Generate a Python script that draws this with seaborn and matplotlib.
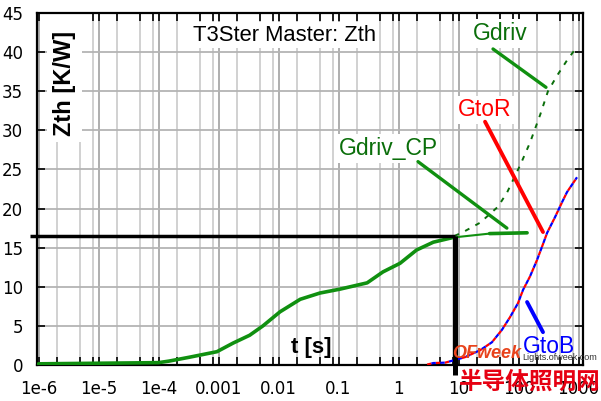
import matplotlib
matplotlib.use("Agg")
import matplotlib.pyplot as plt
import matplotlib.ticker as mticker
from matplotlib.patches import Rectangle
import seaborn as sns
import pandas as pd

# ---------------- data ----------------
cp_t = [1e-6, 1e-4, 1.5e-4, 3.3e-4, 9.4e-4, 1.75e-3, 3.3e-3, 5.5e-3, 0.0106, 0.023,
        0.049, 0.106, 0.30, 0.55, 1.06, 2.0, 3.8, 8.1]
cp_z = [0.15, 0.3, 0.5, 1.0, 1.7, 2.8, 3.8, 5.0, 6.8, 8.4,
        9.2, 9.7, 10.5, 11.9, 13.0, 14.7, 15.7, 16.3]
cp_tail_t = [8.1, 33.0, 139.0]
cp_tail_z = [16.3, 16.8, 16.9]

gdriv_t = [8.6, 12.0, 23.0, 45.0, 64.0, 106.0, 155.0, 230.0, 310.0, 440.0, 650.0, 950.0]
gdriv_z = [16.5, 17.0, 18.2, 20.2, 22.0, 25.5, 28.4, 32.0, 35.0, 37.0, 39.0, 40.7]

gtor_t = [3.0, 3.8, 6.0, 12.8, 23.0, 36.0, 53.0, 72.0, 98.0, 119.0, 155.0, 203.0,
          246.0, 300.0, 406.0, 531.0, 643.0, 945.0]
gtor_z = [0.05, 0.25, 0.3, 1.0, 1.9, 2.9, 4.5, 6.1, 7.9, 9.6, 11.3, 13.4,
          15.1, 16.9, 18.9, 20.8, 22.1, 24.0]
gtob_t = list(gtor_t)
gtob_z = list(gtor_z)

marker_t = 8.6
marker_z = 16.5

xtick_vals = [1e-6, 1e-5, 1e-4, 1e-3, 1e-2, 1e-1, 1, 10, 100, 1000]
xtick_labels = ["1e-6", "1e-5", "1e-4", "0.001", "0.01", "0.1", "1", "10", "100", "1000"]
ytick_vals = [0, 5, 10, 15, 20, 25, 30, 35, 40, 45]

title_text = "T3Ster Master: Zth"
ylabel_text = "Zth [K/W]"
xlabel_text = "t [s]"

# ---------------- style ----------------
sns.set_theme(style="white")
plt.rcParams["font.family"] = ["DejaVu Sans"]

GREEN = "#109010"
DKGREEN = "#0a6e0a"

fig = plt.figure(figsize=(6.01, 4.01), dpi=100)
ax = fig.add_axes([37 / 601, 36 / 401, 546 / 601, 352 / 401])
ax.set_xscale("log")
ax.set_xlim(10 ** (-6 - 1.5 / 60), 10 ** (3 + 4.5 / 60))
ax.set_ylim(0, 45)

# grid
ax.xaxis.set_major_locator(mticker.FixedLocator(xtick_vals))
ax.xaxis.set_major_formatter(mticker.FixedFormatter(xtick_labels))
ax.xaxis.set_minor_locator(mticker.LogLocator(base=10, subs=[2, 5, 8], numticks=30))
ax.xaxis.set_minor_formatter(mticker.NullFormatter())
ax.set_yticks(ytick_vals)
ax.grid(True, which="major", axis="x", color="#a8a8a8", lw=1.3, zorder=0)
ax.grid(True, which="minor", axis="x", color="#cacaca", lw=1.2, zorder=0)
ax.grid(True, which="major", axis="y", color="#b4b4b4", lw=1.3, zorder=0)
ax.set_axisbelow(True)

ax.tick_params(axis="both", which="both", direction="in", top=True, right=True,
               bottom=True, left=True, color="black", length=5.5, width=1.2,
               labelsize=12, labelcolor="black")
ax.tick_params(axis="x", which="major", pad=11)
ax.tick_params(axis="y", which="major", pad=10)
for s in ax.spines.values():
    s.set_color("black")
    s.set_linewidth(1.6)

# white box behind y label
ax.add_patch(Rectangle((10 / 546, (365 - 142) / 352), 35 / 546, 1 - (365 - 142) / 352,
                       transform=ax.transAxes, facecolor="white", edgecolor="none", zorder=1))

# ---------------- curves ----------------
sns.lineplot(x=cp_t, y=cp_z, ax=ax, color=GREEN, linewidth=2.6, sort=False,
             estimator=None, zorder=4)
sns.lineplot(x=cp_tail_t, y=cp_tail_z, ax=ax, color=GREEN, linewidth=1.5, sort=False,
             estimator=None, zorder=4)
sns.lineplot(x=cp_tail_t[1:], y=cp_tail_z[1:], ax=ax, color=GREEN, linewidth=2.6,
             sort=False, estimator=None, zorder=4)
sns.lineplot(x=gdriv_t, y=gdriv_z, ax=ax, color=DKGREEN, linewidth=1.4, sort=False,
             estimator=None, linestyle=(0, (2.5, 3.5)), zorder=4)
sns.lineplot(x=gtor_t, y=gtor_z, ax=ax, color="#ff0000", linewidth=1.6, sort=False,
             estimator=None, linestyle=(0, (2, 2)), zorder=4)
sns.lineplot(x=gtob_t, y=gtob_z, ax=ax, color="#0000ff", linewidth=1.6, sort=False,
             estimator=None, linestyle=(2, (2, 2)), zorder=4)

# black marker lines
ax.plot([10 ** (-6 - 8.5 / 60), marker_t], [marker_z, marker_z], color="black",
        lw=2.5, clip_on=False, zorder=6, solid_capstyle="butt")
ax.plot([marker_t, marker_t], [marker_z, -1.3], color="black", lw=3.6,
        clip_on=False, zorder=6, solid_capstyle="butt")

# ---------------- texts ----------------
ax.text(0.454, 0.9375, title_text, transform=ax.transAxes, ha="center", va="center",
        fontsize=15.8, family="Liberation Sans", color="black",
        bbox=dict(facecolor="white", edgecolor="none", pad=2), zorder=5)
ax.text(0.051, 0.80, ylabel_text, transform=ax.transAxes, ha="center", va="center",
        rotation=90, fontsize=17, fontweight="bold", family="Liberation Sans",
        color="black", zorder=5)
ax.text(0.035, 2.3, xlabel_text, ha="center", va="center", fontsize=16,
        fontweight="bold", family="Liberation Sans", color="black", zorder=5)

box = dict(facecolor="white", edgecolor="none", pad=2)
# Gdriv
ax.text(49, 42.4, "Gdriv", ha="center", va="center", fontsize=16.5,
        family="Liberation Sans", color=DKGREEN, bbox=box, zorder=5)
ax.plot([37.6, 287], [40.4, 35.5], color=GREEN, lw=2.4, zorder=5)
# GtoR
ax.text(27.7, 32.6, "GtoR", ha="center", va="center", fontsize=16.5,
        family="Liberation Sans", color="#ff0000", bbox=box, zorder=5)
ax.plot([27.7, 256], [31.1, 17.0], color="#ff0000", lw=2.8, zorder=5)
# Gdriv_CP
ax.text(0.668, 27.7, "Gdriv_CP", ha="center", va="center", fontsize=16.5,
        family="Liberation Sans", color=DKGREEN, bbox=box, zorder=5)
ax.plot([2.11, 64], [26.0, 17.5], color=GREEN, lw=2.4, zorder=5)
# GtoB
ax.text(322, 2.4, "GtoB", ha="center", va="center", fontsize=16.5,
        family="Liberation Sans", color="#0000ff", zorder=5)
ax.plot([139, 256], [8.05, 4.2], color="#0000ff", lw=2.8, zorder=5)

# watermark
fig.text(487 / 601, 1 - 354 / 401, "OFweek", ha="center", va="center", fontsize=13,
         fontweight="bold", style="italic", family="Liberation Sans", color="#e8431c",
         zorder=10)
fig.text(522 / 601, 1 - 358 / 401, "Lights.ofweek.com", ha="left", va="center",
         fontsize=6.5, family="Liberation Sans", color="#333333", zorder=10)
fig.text(530 / 601, 1 - 382 / 401, "半导体照明网", ha="center", va="center",
         fontsize=17, fontweight="bold", family=["Noto Sans CJK SC", "DejaVu Sans"],
         color="#e60012", zorder=10)

fig.savefig("out.png", dpi=100, facecolor="white")
